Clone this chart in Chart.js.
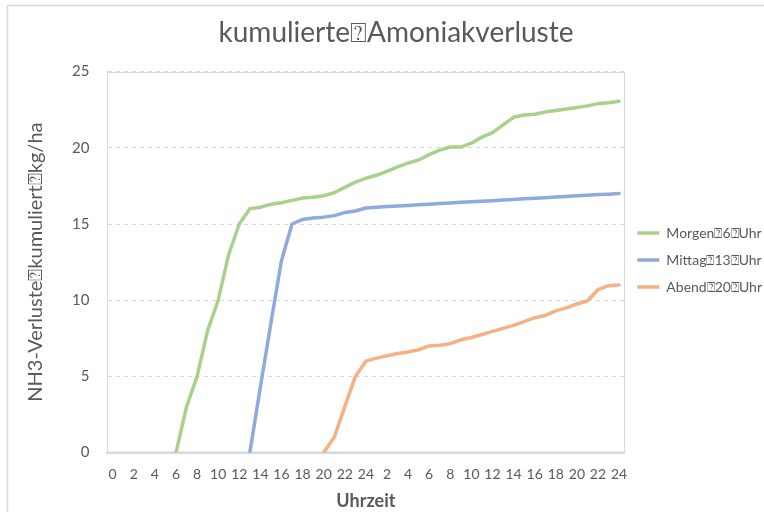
<!DOCTYPE html>
<html>
<head>
<meta charset="utf-8">
<title>kumulierte Amoniakverluste</title>
<script src="https://cdn.jsdelivr.net/npm/chart.js@4.4.1/dist/chart.umd.min.js"></script>
<style>
    body { margin: 0; background: #fff; }
    #wrap { width: 764px; height: 512px; position: relative; }
</style>
</head>
<body>
<div id="wrap"><canvas id="chart" width="764" height="512"></canvas></div>
<script>
// Stunden ab 0 Uhr, zwei Tage (0..24, dann 1..24)
const hours = ['0','1','2','3','4','5','6','7','8','9','10','11','12','13','14','15','16','17','18','19','20','21','22','23','24',
    '1','2','3','4','5','6','7','8','9','10','11','12','13','14','15','16','17','18','19','20','21','22','23','24'];

// Ausbringung um 6 Uhr (Werte ab Stunde 6)
const morgenStart = 6;
const morgen = [0, 3, 5, 8, 10, 13, 15, 16, 16.1, 16.3, 16.4, 16.55, 16.7, 16.75, 16.85, 17.05, 17.4, 17.75, 18.0,
    18.2, 18.45, 18.75, 19.0, 19.2, 19.55, 19.85, 20.05, 20.05, 20.3, 20.7, 21.0, 21.5, 22.0, 22.15, 22.2,
    22.35, 22.45, 22.55, 22.65, 22.75, 22.9, 22.95, 23.05];

// Ausbringung um 13 Uhr (Werte ab Stunde 13)
const mittagStart = 13;
const mittag = [0, 4.3, 8.5, 12.6, 15.0, 15.3, 15.4, 15.45, 15.55, 15.75, 15.85, 16.05, 16.1, 16.15, 16.18,
    16.22, 16.26, 16.3, 16.34, 16.38, 16.42, 16.46, 16.5, 16.53, 16.57, 16.61, 16.65, 16.69, 16.73, 16.77,
    16.81, 16.85, 16.89, 16.93, 16.96, 17.0];

// Ausbringung um 20 Uhr (Werte ab Stunde 20)
const abendStart = 20;
const abend = [0, 1, 3, 5, 6, 6.2, 6.35, 6.5, 6.6, 6.75, 7.0, 7.05, 7.15, 7.4, 7.55, 7.75, 7.95, 8.15, 8.35,
    8.6, 8.85, 9.0, 9.3, 9.5, 9.75, 9.95, 10.7, 10.95, 11.0];

const yTicks = [0, 5, 10, 15, 20, 25];

// Reihe auf die volle Stundenachse legen (vor Beginn: keine Werte)
function padSeries(start, values) {
    const out = hours.map(() => null);
    values.forEach((v, i) => { out[start + i] = v; });
    return out;
}

const FONT = 'Lato, "Liberation Sans", sans-serif';
const GREY = '#595959';

// Rahmen um Diagramm und Zeichenfläche
const framePlugin = {
    id: 'frame',
    beforeDraw(chart) {
        const ctx = chart.ctx;
        ctx.save();
        ctx.fillStyle = '#fff';
        ctx.fillRect(0, 0, chart.width, chart.height);
        ctx.strokeStyle = '#d9d9d9';
        ctx.lineWidth = 1.5;
        ctx.strokeRect(7.5, 5.5, chart.width + 20, chart.height + 20);
        ctx.restore();
    },
    beforeDatasetsDraw(chart) {
        const a = chart.chartArea;
        const ctx = chart.ctx;
        ctx.save();
        ctx.strokeStyle = '#d9d9d9';
        ctx.lineWidth = 1;
        ctx.strokeRect(Math.round(a.left) + 0.5, Math.round(a.top) + 0.5, Math.round(a.right - a.left), Math.round(a.bottom - a.top));
        ctx.lineWidth = 2;
        ctx.beginPath();
        ctx.moveTo(a.left, a.bottom);
        ctx.lineTo(a.right, a.bottom);
        ctx.stroke();
        ctx.restore();
    }
};

function lineSet(label, data, color) {
    return {
        label: label,
        data: data,
        borderColor: color,
        backgroundColor: color,
        borderWidth: 3.5,
        pointRadius: 0,
        pointHoverRadius: 0,
        pointStyle: 'line',
        tension: 0,
        borderCapStyle: 'round',
        borderJoinStyle: 'round',
        spanGaps: false
    };
}

new Chart(document.getElementById('chart'), {
    type: 'line',
    data: {
        labels: hours,
        datasets: [
            lineSet('Morgen\u23706\u2370Uhr', padSeries(morgenStart, morgen), '#a9d18e'),
            lineSet('Mittag\u237013\u2370Uhr', padSeries(mittagStart, mittag), '#8faadc'),
            lineSet('Abend\u237020\u2370Uhr', padSeries(abendStart, abend), '#f4b183')
        ]
    },
    options: {
        responsive: false,
        animation: false,
        layout: { padding: { left: 20, right: -8, top: 0, bottom: 0 } },
        plugins: {
            title: {
                display: true,
                text: 'kumulierte\u2370Amoniakverluste',
                color: GREY,
                font: { family: FONT, size: 28, weight: 'normal' },
                padding: { top: 16, bottom: 22 }
            },
            legend: {
                position: 'right',
                // leerer Legendentitel schiebt die Einträge etwas nach unten
                title: { display: true, text: ' ', font: { size: 1 }, padding: { top: 7, bottom: 0 } },
                labels: {
                    color: GREY,
                    font: { family: FONT, size: 14 },
                    usePointStyle: true,
                    pointStyle: 'line',
                    pointStyleWidth: 22,
                    boxWidth: 22,
                    padding: 13
                }
            },
            tooltip: { enabled: false }
        },
        scales: {
            x: {
                offset: true,
                grid: { display: false, drawTicks: false },
                border: { display: true, color: '#d9d9d9', width: 2 },
                ticks: {
                    autoSkip: false,
                    maxRotation: 0,
                    padding: 13,
                    color: GREY,
                    font: { family: FONT, size: 14 },
                    callback: function(value, index) { return index % 2 === 0 ? hours[index] : ''; }
                },
                title: {
                    display: true,
                    text: 'Uhrzeit',
                    color: GREY,
                    font: { family: FONT, size: 18, weight: 'bold' },
                    padding: { top: -5, bottom: 0 }
                }
            },
            y: {
                min: 0,
                max: 25,
                afterBuildTicks: function(axis) { axis.ticks = yTicks.map(v => ({ value: v })); },
                grid: { color: '#d9d9d9', drawTicks: false },
                border: { display: true, color: '#d9d9d9', dash: [4, 4] },
                ticks: {
                    padding: 18,
                    color: GREY,
                    font: { family: FONT, size: 15 }
                },
                title: {
                    display: true,
                    text: 'NH3-Verluste\u2370kumuliert\u2370kg/ha',
                    color: GREY,
                    font: { family: FONT, size: 20, weight: 'normal' },
                    padding: { top: 4, bottom: 6 }
                }
            }
        }
    },
    plugins: [framePlugin]
});
</script>
</body>
</html>
